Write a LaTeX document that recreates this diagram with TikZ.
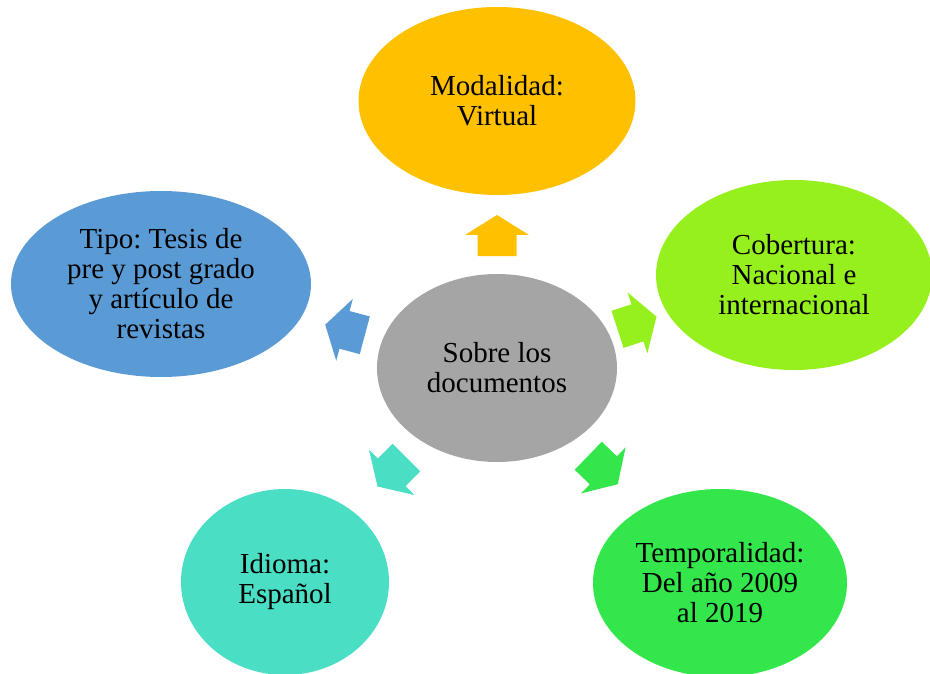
\documentclass[tikz,border=0pt]{standalone}
\usepackage{fontspec}
\setmainfont{Liberation Serif}
\usetikzlibrary{shapes.geometric}
\frenchspacing
\definecolor{cgray}{HTML}{A5A5A5}
\definecolor{corange}{HTML}{FFC000}
\definecolor{clime}{HTML}{96F01E}
\definecolor{cgreen}{HTML}{33E64B}
\definecolor{cturq}{HTML}{4ADEC4}
\definecolor{cblue}{HTML}{5B9BD5}
\tikzset{
  bubble/.style={ellipse, inner sep=0pt, align=center, text=black,
    font=\fontsize{29}{30}\selectfont},
}
\newcommand\blkarrow[4]{\fill[#4, shift={(#1)}, rotate=#2]
  (-20.5,-19.5) -- (0.5,-19.5) -- (0.5,-32) -- (20.5,0) -- (0.5,32) -- (0.5,19.5) -- (-20.5,19.5) -- cycle;
  \coordinate (#3) at (#1);}
\begin{document}
\begin{tikzpicture}[x=1pt,y=-1pt]
\useasboundingbox (0,0) rectangle (930,674);
\node[bubble, fill=cgray, minimum width=240pt, minimum height=188pt] (c) at (497,368) {Sobre los\\documentos};
\node[bubble, fill=corange, minimum width=277pt, minimum height=188pt] (t) at (497,101) {Modalidad:\\Virtual};
\node[bubble, fill=clime, minimum width=276pt, minimum height=190pt] (r) at (794,275) {Cobertura:\\Nacional e\\internacional};
\node[bubble, fill=cgreen, minimum width=254pt, minimum height=188pt] (br) at (720,583) {Temporalidad:\\Del año 2009\\al 2019};
\node[bubble, fill=cturq, minimum width=208pt, minimum height=186pt] (bl) at (285,582) {Idioma:\\Español};
\node[bubble, fill=cblue, minimum width=300pt, minimum height=186pt] (l) at (161,284) {Tipo: Tesis de\\pre y post grado\\y artículo de\\revistas};
\blkarrow{497,235.5}{90}{at}{corange}
\blkarrow{637,323}{18}{ar}{clime}
\blkarrow{603,470}{-44}{abr}{cgreen}
\blkarrow{392,472}{-135}{abl}{cturq}
\blkarrow{345,330}{165}{al}{cblue}
\end{tikzpicture}
\end{document}
